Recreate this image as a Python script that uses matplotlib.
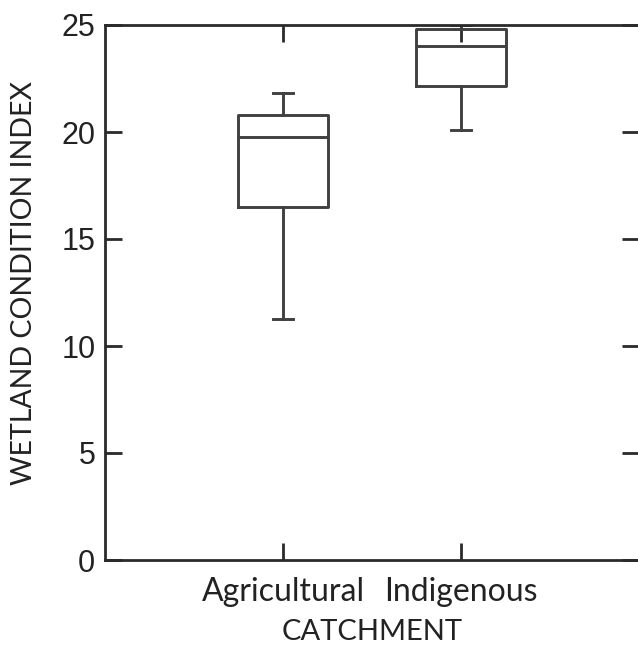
import matplotlib.pyplot as plt

# values
categories = ["Agricultural", "Indigenous"]
whisker_low = [11.25, 20.1]
q1 = [16.5, 22.15]
median = [19.75, 24.0]
q3 = [20.78, 24.8]
whisker_high = [21.8, 25.0]
yticks = [0, 5, 10, 15, 20, 25]

stats = []
for i, name in enumerate(categories):
    stats.append({"label": name, "whislo": whisker_low[i], "q1": q1[i],
                  "med": median[i], "q3": q3[i], "whishi": whisker_high[i],
                  "fliers": []})

line_col = "#404040"
lw = 2.1

fig = plt.figure(figsize=(6.38, 6.46), dpi=100)
ax = fig.add_axes([105 / 638, 86 / 646, 534 / 638, 535 / 646])

props = dict(color=line_col, linewidth=lw)
ax.bxp(stats, positions=[1, 2], widths=0.51, capwidths=0.11,
       boxprops=props, whiskerprops=props, capprops=props,
       medianprops=props, showfliers=False)

ax.set_xlim(0, 3)
ax.set_ylim(0, 25)
ax.set_yticks(yticks)
ax.set_yticklabels([str(t) for t in yticks], fontsize=22, family="Liberation Sans",
                   color="#222222")
ax.set_xticks([1, 2])
ax.set_xticklabels(categories, fontsize=23, family="Lato", color="#222222")

for s in ax.spines.values():
    s.set_linewidth(2.0)
    s.set_color("#2a2a2a")

ax.tick_params(axis="y", direction="in", length=12, width=2.0, color="#2a2a2a",
               right=True, pad=7)
ax.tick_params(axis="x", direction="in", length=12, width=2.0, color="#2a2a2a",
               top=True, pad=12)

ax.set_xlabel("CATCHMENT", fontsize=21, family="Lato", color="#222222", labelpad=9)
ax.set_ylabel("WETLAND CONDITION INDEX", fontsize=20.5, family="Lato",
              color="#222222")
ax.yaxis.set_label_coords(-0.128, 0.517)

fig.savefig("out.png", dpi=100)
